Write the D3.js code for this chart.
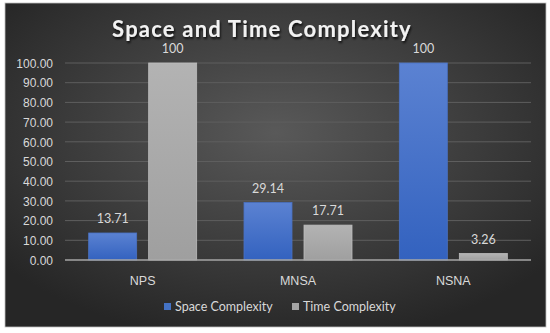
<!DOCTYPE html>
<html>
<head>
<meta charset="utf-8">
<script src="https://cdn.jsdelivr.net/npm/d3@7"></script>
<style>
  html, body { margin: 0; padding: 0; background: #fff; }
  svg { display: block; font-family: Lato, "Open Sans", sans-serif; }
</style>
</head>
<body>
<div id="chart"></div>
<script>
var categories = ["NPS", "MNSA", "NSNA"];
var seriesNames = ["Space Complexity", "Time Complexity"];
var spaceValues = [13.71, 29.14, 100];
var timeValues = [100, 17.71, 3.26];
var spaceLabels = ["13.71", "29.14", "100"];
var timeLabels = ["100", "17.71", "3.26"];
var yTicks = [0, 10, 20, 30, 40, 50, 60, 70, 80, 90, 100];

var width = 550, height = 333;
var svg = d3.select("#chart").append("svg")
  .attr("width", width)
  .attr("height", height);

var defs = svg.append("defs");
var bg = defs.append("radialGradient").attr("id", "bg")
  .attr("cx", "50%").attr("cy", "40%").attr("r", "65%");
bg.append("stop").attr("offset", "0%").attr("stop-color", "#595959");
bg.append("stop").attr("offset", "100%").attr("stop-color", "#262626");

var blueGrad = defs.append("linearGradient").attr("id", "blueGrad")
  .attr("x1", 0).attr("y1", 0).attr("x2", 0).attr("y2", 1);
blueGrad.append("stop").attr("offset", "0%").attr("stop-color", "#5b82d2");
blueGrad.append("stop").attr("offset", "100%").attr("stop-color", "#3362bf");

var grayGrad = defs.append("linearGradient").attr("id", "grayGrad")
  .attr("x1", 0).attr("y1", 0).attr("x2", 0).attr("y2", 1);
grayGrad.append("stop").attr("offset", "0%").attr("stop-color", "#b3b3b3");
grayGrad.append("stop").attr("offset", "100%").attr("stop-color", "#9f9f9f");

var shadow = defs.append("filter").attr("id", "shadow")
  .attr("x", "-10%").attr("y", "-20%").attr("width", "120%").attr("height", "150%");
shadow.append("feDropShadow").attr("dx", 1).attr("dy", 2)
  .attr("stdDeviation", 1.2).attr("flood-color", "#000").attr("flood-opacity", 0.8);

// frame
svg.append("rect")
  .attr("x", 5).attr("y", 3).attr("width", 541).attr("height", 324)
  .attr("fill", "url(#bg)")
  .attr("stroke", "#bfbfbf").attr("stroke-width", 0.8);

var plot = { left: 65, right: 531, top: 63, bottom: 260 };

var x0 = d3.scaleBand().domain(categories)
  .range([plot.left, plot.right]).paddingInner(0).paddingOuter(0);
var y = d3.scaleLinear().domain([0, 100]).range([plot.bottom, plot.top]);

// gridlines
svg.append("g").selectAll("line").data(yTicks.slice(1)).join("line")
  .attr("x1", plot.left).attr("x2", plot.right)
  .attr("y1", d => y(d)).attr("y2", d => y(d))
  .attr("stroke", "#5e5e5e").attr("stroke-width", 1);

// y axis labels
var yAxis = d3.axisLeft(y).tickValues(yTicks).tickFormat(d3.format(".2f")).tickSize(0).tickPadding(12);
var gy = svg.append("g").attr("transform", "translate(" + plot.left + ",0)").call(yAxis);
gy.select(".domain").remove();
gy.selectAll("text").attr("fill", "#d9d9d9").attr("font-size", 12).attr("dy", "0.35em");

var barW = 48, gap = 12;
var data = categories.map((c, i) => ({ cat: c, vals: [spaceValues[i], timeValues[i]], labels: [spaceLabels[i], timeLabels[i]] }));
var fills = ["url(#blueGrad)", "url(#grayGrad)"];
var strokes = ["#4a72c4", "#bdbdbd"];

data.forEach(d => {
  var cx = x0(d.cat) + x0.bandwidth() / 2;
  d.vals.forEach((v, j) => {
    var bx = cx - (barW * 2 + gap) / 2 + j * (barW + gap);
    svg.append("rect")
      .attr("x", bx).attr("y", y(v))
      .attr("width", barW).attr("height", y(0) - y(v))
      .attr("fill", fills[j])
      .attr("stroke", strokes[j]).attr("stroke-width", 0.8);
    svg.append("text")
      .attr("x", bx + barW / 2).attr("y", y(v) - 10)
      .attr("text-anchor", "middle")
      .attr("fill", "#d9d9d9").attr("font-size", 12.5)
      .text(d.labels[j]);
  });
});

// x axis line
svg.append("line")
  .attr("x1", plot.left).attr("x2", plot.right)
  .attr("y1", y(0)).attr("y2", y(0))
  .attr("stroke", "#a6a6a6").attr("stroke-width", 1.5);

var xAxis = d3.axisBottom(x0).tickSize(0).tickPadding(16);
var gx = svg.append("g").attr("transform", "translate(0," + plot.bottom + ")").call(xAxis);
gx.select(".domain").remove();
gx.selectAll("text").attr("fill", "#d9d9d9").attr("font-size", 12.5);

// title
svg.append("text")
  .attr("x", 262).attr("y", 37)
  .attr("text-anchor", "middle")
  .attr("fill", "#f2f2f2")
  .attr("font-size", 22).attr("font-weight", "bold")
  .attr("letter-spacing", 1.2)
  .attr("filter", "url(#shadow)")
  .text("Space and Time Complexity");

// legend
var legendColors = ["#4472c4", "#a5a5a5"];
var legendX = [164, 292];
seriesNames.forEach((n, i) => {
  svg.append("rect")
    .attr("x", legendX[i]).attr("y", 303)
    .attr("width", 7).attr("height", 7)
    .attr("fill", legendColors[i]);
  svg.append("text")
    .attr("x", legendX[i] + 11).attr("y", 311)
    .attr("fill", "#d9d9d9").attr("font-size", 12.5)
    .text(n);
});
</script>
</body>
</html>
